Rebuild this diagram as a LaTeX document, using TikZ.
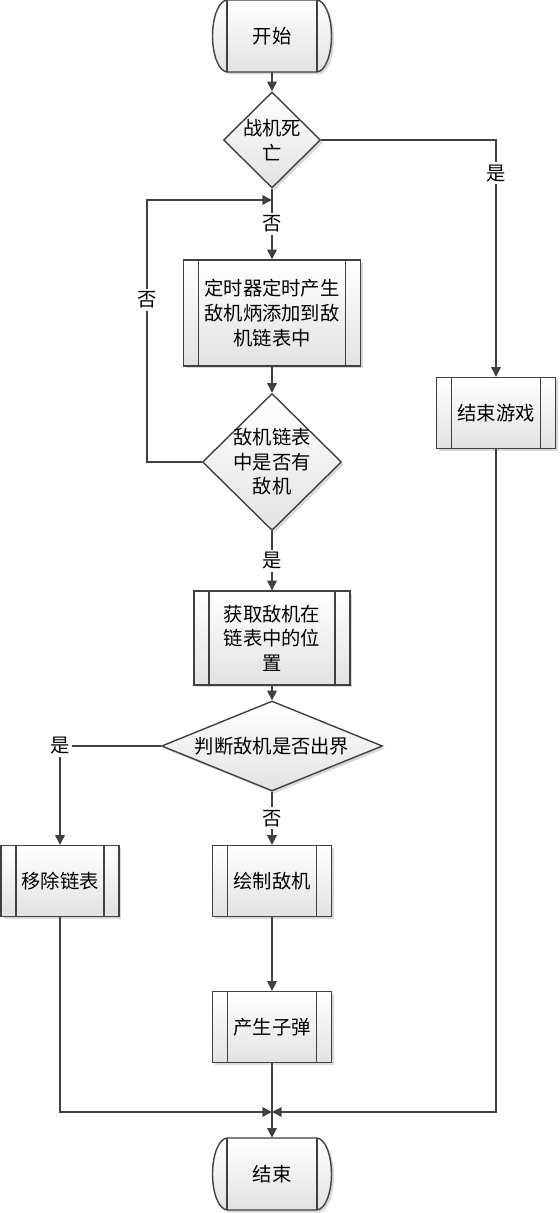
\documentclass[tikz,border=0pt]{standalone}
\usepackage{fontspec}
\newfontfamily\cjk{Noto Sans CJK SC}
\usepackage{xcolor}
\usetikzlibrary{arrows.meta, positioning, shapes.geometric, shadows, backgrounds}

\definecolor{linegray}{HTML}{404040}
\definecolor{boxgray}{HTML}{E2E2E2}
\newcommand{\capsulepath}{(-0.89cm,0.72cm) -- (0.89cm,0.72cm)
  arc[start angle=90, end angle=-90, x radius=0.3cm, y radius=0.72cm]
  -- (-0.89cm,-0.72cm)
  arc[start angle=270, end angle=90, x radius=0.3cm, y radius=0.72cm] -- cycle}

\begin{document}
\begin{tikzpicture}[
    x=0.02cm, y=0.02cm,
    every node/.style={font=\cjk\fontsize{11}{14}\selectfont, align=center},
    shade box/.style={draw=linegray, line width=0.8pt, top color=white, bottom color=boxgray,
      drop shadow={shadow xshift=0.05cm, shadow yshift=-0.05cm, fill=black!30, opacity=0.5}},
    process/.style={shade box, rectangle, inner sep=0pt,
      path picture={\draw[linegray, line width=0.8pt]
        ([xshift=0.3cm]path picture bounding box.north west) -- ([xshift=0.3cm]path picture bounding box.south west)
        ([xshift=-0.3cm]path picture bounding box.north east) -- ([xshift=-0.3cm]path picture bounding box.south east);}},
    decision/.style={shade box, diamond, inner sep=-2pt},
    terminal/.style={rectangle, inner sep=0pt, minimum width=1.78cm, minimum height=1.44cm},
    flow/.style={draw=linegray, line width=0.8pt, -{Triangle[length=5.5pt, width=5.5pt]}},
    tag/.style={fill=white, inner sep=1.5pt}
  ]
  \useasboundingbox (0,0) rectangle (559,-1213);

  % Nodes
  \node[terminal] (start) at (272,-36) {开始};
  \node[decision, minimum width=1.94cm, minimum height=1.92cm] (dead) at (272,-140) {战机死\\亡};
  \node[process, minimum width=3.54cm, minimum height=2.12cm] (timer) at (272,-313) {定时器定时产生\\敌机炳添加到敌\\机链表中};
  \node[decision, minimum width=2.78cm, minimum height=2.74cm] (has) at (272,-462) {敌机链表\\中是否有\\敌机};
  \node[process, minimum width=3.12cm, minimum height=1.88cm] (locate) at (272,-638) {获取敌机在\\链表中的位\\置};
  \node[decision, aspect=2.4, minimum width=4.42cm, minimum height=1.8cm] (bound) at (272,-746) {判断敌机是否出界};
  \node[process, minimum width=2.36cm, minimum height=1.42cm] (remove) at (60,-881) {移除链表};
  \node[process, minimum width=2.38cm, minimum height=1.42cm] (paint) at (272,-881) {绘制敌机};
  \node[process, minimum width=2.38cm, minimum height=1.42cm] (bullet) at (272,-1027) {产生子弹};
  \node[process, minimum width=2.38cm, minimum height=1.42cm] (quit) at (496,-413) {结束游戏};
  \node[terminal] (stop) at (272,-1174) {结束};

  % Capsule outlines of the terminals
  \begin{scope}[on background layer]
    \foreach \t in {start, stop} {
      \fill[black!30, opacity=0.5, shift={(\t.center)}, shift={(0.05cm,-0.05cm)}] \capsulepath;
      \shade[top color=white, bottom color=boxgray, shift={(\t.center)}] \capsulepath;
      \draw[linegray, line width=0.8pt, shift={(\t.center)}] \capsulepath;
      \draw[linegray, line width=0.8pt] (\t.north west) -- (\t.south west) (\t.north east) -- (\t.south east);
    }
  \end{scope}

  \coordinate (join1) at (272,-200);
  \coordinate (join2) at (272,-1112);

  % Connectors
  \draw[flow] (start) -- (dead);
  \draw[flow] (dead) -- node[tag] {否} (timer);
  \draw[flow] (dead.east) -| node[tag, pos=0.57] {是} (quit.north);
  \draw[flow] (timer) -- (has);
  \draw[flow] (has.west) -- ++(-55,0) |- node[tag, pos=0.31] {否} (join1);
  \draw[flow] (has) -- node[tag] {是} (locate);
  \draw[flow] (locate) -- (bound);
  \draw[flow] (bound.west) -| node[tag] {是} (remove.north);
  \draw[flow] (bound) -- node[tag] {否} (paint);
  \draw[flow] (paint) -- (bullet);
  \draw[flow] (bullet) -- (stop);
  \draw[flow] (remove.south) |- (join2);
  \draw[flow] (quit.south) |- (join2);
\end{tikzpicture}
\end{document}
